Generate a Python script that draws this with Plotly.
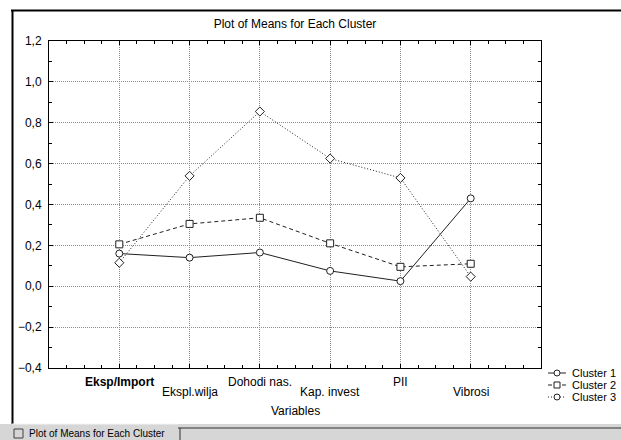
import plotly.graph_objects as go

# ---- data ----
variables = ["Eksp/Import", "Ekspl.wilja", "Dohodi nas.", "Kap. invest", "PII", "Vibrosi"]
cluster1 = [0.16, 0.14, 0.165, 0.075, 0.025, 0.43]
cluster2 = [0.205, 0.305, 0.335, 0.21, 0.095, 0.11]
cluster3 = [0.115, 0.54, 0.855, 0.625, 0.53, 0.047]
series_names = ["Cluster 1", "Cluster 2", "Cluster 3"]
y_ticks = [-0.4, -0.2, 0.0, 0.2, 0.4, 0.6, 0.8, 1.0, 1.2]

W, H = 621, 440
L, R, T, B = 49, 541, 41, 368  # plot area in px

def px_x(px):
    return (px - L) / (R - L)

def px_y(py):
    return (B - py) / (B - T)

FONT = "Liberation Sans, Arial, sans-serif"
idx = list(range(len(variables)))

fig = go.Figure()
styles = [
    dict(dash="solid", symbol="circle", size=7),
    dict(dash="4px,3px", symbol="square", size=7),
    dict(dash="1px,2px", symbol="diamond", size=7),
]
for name, vals, st in zip(series_names, [cluster1, cluster2, cluster3], styles):
    fig.add_trace(go.Scatter(
        x=idx, y=vals, mode="lines+markers", name=name,
        line=dict(color="#202020", width=1, dash=st["dash"]),
        marker=dict(symbol=st["symbol"], size=st["size"], color="white",
                    line=dict(color="#202020", width=1)),
        showlegend=False,
    ))

axis_common = dict(
    showline=True, linecolor="black", linewidth=1, mirror="allticks",
    ticks="inside", ticklen=4, tickcolor="black",
    showgrid=True, gridcolor="#8c8c8c", griddash="1px,1px", gridwidth=1,
    zeroline=False,
)
fig.update_xaxes(range=[-1, 6], tickvals=idx, showticklabels=False,
                 minor=dict(dtick=0.25, tick0=0, ticks="inside", ticklen=3,
                            tickcolor="black", showgrid=False),
                 **axis_common)
fig.update_yaxes(range=[-0.4, 1.2], tickvals=y_ticks, tickformat=".1f",
                 tickfont=dict(family=FONT, size=12, color="black"),
                 ticklabelstandoff=4,
                 minor=dict(dtick=0.1, tick0=0, ticks="inside", ticklen=3,
                            tickcolor="black", showgrid=False),
                 **axis_common)

ann = []
# staggered category labels
for i, v in enumerate(variables):
    text = f"<b>{v}</b>" if i == 0 else v
    ann.append(dict(x=i, y=0, xref="x", yref="paper", text=text, showarrow=False,
                    xanchor="center", yanchor="top",
                    yshift=-5 if i % 2 == 0 else -15,
                    font=dict(family=FONT, size=12, color="black")))
ann.append(dict(x=0.5, y=px_y(411), xref="paper", yref="paper", text="Variables",
                showarrow=False, xanchor="center", yanchor="middle",
                font=dict(family=FONT, size=12, color="black")))

shapes = []
# manual legend
leg_rows = [373, 385, 397]
leg_dash = ["solid", "4px,3px", "1px,2px"]
leg_sym = ["circle", "rect", "circle"]
for name, ry, dash, sym in zip(series_names, leg_rows, leg_dash, leg_sym):
    shapes.append(dict(type="line", xref="paper", yref="paper",
                       x0=px_x(548), x1=px_x(566), y0=px_y(ry), y1=px_y(ry),
                       line=dict(color="#202020", width=1, dash=dash)))
    shapes.append(dict(type="circle" if sym == "circle" else "rect",
                       xref="paper", yref="paper",
                       xsizemode="pixel", ysizemode="pixel",
                       xanchor=px_x(557), yanchor=px_y(ry),
                       x0=-3, x1=3, y0=-3, y1=3,
                       fillcolor="white", line=dict(color="#202020", width=1)))
    ann.append(dict(x=px_x(570), y=px_y(ry), xref="paper", yref="paper", text=name,
                    showarrow=False, xanchor="left", yanchor="middle",
                    font=dict(family=FONT, size=11, color="black")))

# window frame
shapes.append(dict(type="rect", xref="paper", yref="paper",
                   x0=px_x(11), x1=px_x(W + 5), y0=px_y(9.5), y1=px_y(11.5),
                   fillcolor="black", line=dict(width=0), layer="above"))
shapes.append(dict(type="rect", xref="paper", yref="paper",
                   x0=px_x(11.5), x1=px_x(13.5), y0=px_y(10), y1=px_y(424),
                   fillcolor="black", line=dict(width=0), layer="above"))
# bottom status bar
shapes.append(dict(type="rect", xref="paper", yref="paper",
                   x0=px_x(0), x1=px_x(W + 5), y0=px_y(424), y1=px_y(H + 5),
                   fillcolor="#d6d6d6", line=dict(width=0), layer="above"))
shapes.append(dict(type="line", xref="paper", yref="paper",
                   x0=px_x(178), x1=px_x(W + 5), y0=px_y(428), y1=px_y(428),
                   line=dict(color="#303030", width=1)))
shapes.append(dict(type="line", xref="paper", yref="paper",
                   x0=px_x(180), x1=px_x(180), y0=px_y(428), y1=px_y(H + 5),
                   line=dict(color="#303030", width=1)))
shapes.append(dict(type="line", xref="paper", yref="paper",
                   x0=px_x(12), x1=px_x(178), y0=px_y(424), y1=px_y(424),
                   line=dict(color="#f4f4f4", width=1)))
# tab icon
shapes.append(dict(type="rect", xref="paper", yref="paper",
                   x0=px_x(14), x1=px_x(23), y0=px_y(429), y1=px_y(438),
                   fillcolor="rgba(0,0,0,0)", line=dict(color="#404040", width=1)))
ann.append(dict(x=px_x(27), y=px_y(433), xref="paper", yref="paper",
                text="Plot of Means for Each Cluster", showarrow=False,
                xanchor="left", yanchor="middle",
                font=dict(family=FONT, size=10, color="black")))

fig.update_layout(
    width=W, height=H,
    margin=dict(l=L, r=W - R, t=T, b=H - B),
    paper_bgcolor="white", plot_bgcolor="white",
    separators=", ",
    title=dict(text="Plot of Means for Each Cluster", x=px_x(295), xref="paper",
               xanchor="center", y=1 - 24 / H, yref="container", yanchor="middle",
               font=dict(family=FONT, size=12, color="black", weight="normal")),
    annotations=ann, shapes=shapes, showlegend=False,
)

fig.write_html("out.html", config={"displayModeBar": False},
               post_script="document.body.style.margin='0';document.body.style.overflow='hidden';")
